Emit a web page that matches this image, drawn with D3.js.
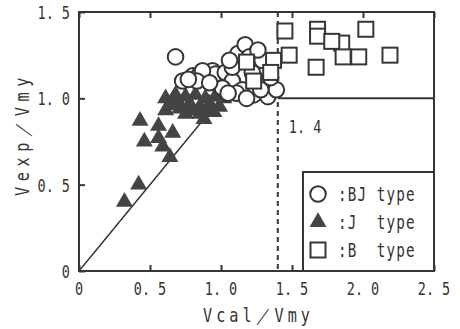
<!DOCTYPE html>
<html>
<head>
<meta charset="utf-8">
<script src="https://cdn.jsdelivr.net/npm/d3@7"></script>
<style>
  body { margin: 0; background: #fff; }
  text { font-family: "DejaVu Sans Mono", monospace; fill: #333; white-space: pre; }
</style>
</head>
<body>
<div class="plot"></div>
<script>
// BJ type (circles)
var bjX = [0.68, 0.73, 0.80, 0.85, 0.90, 0.94, 0.97, 0.96, 1.03, 1.08, 1.08, 1.12, 1.17, 1.20, 1.15, 1.23, 1.33, 1.39, 1.29, 1.26, 1.11, 1.18, 0.87, 1.01, 0.83, 1.06, 0.77, 0.92, 1.05, 1.28, 1.35, 1.22];
var bjY = [1.24, 1.10, 1.13, 1.14, 1.11, 1.16, 1.09, 1.14, 1.15, 1.10, 1.18, 1.26, 1.31, 1.24, 1.05, 1.02, 1.01, 1.05, 1.22, 1.28, 1.03, 1.00, 1.16, 1.06, 1.10, 1.22, 1.11, 1.09, 1.03, 1.05, 1.12, 1.15];
// J type (triangles)
var jX = [0.43, 0.56, 0.66, 0.46, 0.56, 0.59, 0.64, 0.42, 0.32, 0.61, 0.68, 0.75, 0.82, 0.89, 0.96, 1.02, 0.64, 0.71, 0.78, 0.85, 0.92, 0.99, 0.75, 0.85, 0.61, 0.70, 0.80, 0.90, 0.95, 0.66, 0.88];
var jY = [0.87, 0.84, 0.80, 0.75, 0.77, 0.72, 0.66, 0.50, 0.40, 1.00, 1.02, 1.01, 1.02, 1.00, 1.01, 1.00, 0.96, 0.94, 0.97, 0.95, 0.97, 0.95, 0.91, 0.91, 0.93, 0.98, 0.93, 0.93, 0.92, 0.99, 0.88];
// B type (squares)
var bX = [1.45, 1.68, 1.68, 1.85, 2.02, 1.86, 1.97, 2.19, 1.67, 1.48, 1.37, 1.35, 1.18, 1.23, 1.78];
var bY = [1.39, 1.40, 1.36, 1.32, 1.40, 1.24, 1.24, 1.25, 1.18, 1.25, 1.22, 1.15, 1.21, 1.10, 1.33];

var xTicks = [0, 0.5, 1.0, 1.5, 2.0, 2.5];
var yTicks = [0, 0.5, 1.0, 1.5];
var xTickLabels = ["0", "0.5", "1.0", "1.5", "2.0", "2.5"];
var yTickLabels = ["0", "0.5", "1.0", "1.5"];
var legendLabels = [":BJ type", ":J  type", ":B  type"];
var limitX = 1.4;

var width = 460, height = 329;
var margin = {left: 79, right: 26, top: 12, bottom: 58};
var ink = "#363636";

var svg = d3.select(".plot").append("svg")
  .attr("width", width)
  .attr("height", height);

var x = d3.scaleLinear().domain([0, 2.5]).range([margin.left, width - margin.right]);
var y = d3.scaleLinear().domain([0, 1.5]).range([height - margin.bottom, margin.top]);

// condensed text helper (the original uses a narrow gothic face)
function label(px, py, str, size, anchor, sx, rot, ls) {
  return svg.append("text")
    .attr("transform", "translate(" + px + "," + py + ")" + (rot ? " rotate(" + rot + ")" : "") + " scale(" + sx + ",1)")
    .attr("text-anchor", anchor)
    .style("font-size", size + "px")
    .style("letter-spacing", (ls || 0) + "px")
    .text(str);
}

// frame
svg.append("rect")
  .attr("x", x(0)).attr("y", y(1.5))
  .attr("width", x(2.5) - x(0)).attr("height", y(0) - y(1.5))
  .attr("fill", "none").attr("stroke", ink).attr("stroke-width", 2);

// inward ticks
var xAxisB = d3.axisBottom(x).tickValues(xTicks).tickSize(-6).tickFormat("");
var xAxisT = d3.axisTop(x).tickValues(xTicks).tickSize(-6).tickFormat("");
var yAxisL = d3.axisLeft(y).tickValues(yTicks).tickSize(-6).tickFormat("");
[[xAxisB, "translate(0," + y(0) + ")"], [xAxisT, "translate(0," + y(1.5) + ")"], [yAxisL, "translate(" + x(0) + ",0)"]]
  .forEach(function(a) {
    var g = svg.append("g").attr("transform", a[1]).call(a[0]);
    g.select(".domain").remove();
    g.selectAll("line").attr("stroke", ink).attr("stroke-width", 2);
  });

// tick labels
xTicks.forEach(function(d, i) {
  label(x(d), y(0) + 24, xTickLabels[i].replace(".", ". "), 18, "middle", 0.75);
});
yTicks.forEach(function(d, i) {
  label(x(0) - 9, y(d) + 7, yTickLabels[i].replace(".", ". "), 18, "end", 0.75);
});

// axis titles
label((x(0) + x(2.5)) / 2 + 2, 322, "Vcal／Vmy", 19, "middle", 0.8, 0, 5);
label(29, 134, "Vexp／Vmy", 19, "middle", 0.8, -90, 7);

// y = x line
svg.append("line")
  .attr("x1", x(0)).attr("y1", y(0)).attr("x2", x(1.0)).attr("y2", y(1.0))
  .attr("stroke", ink).attr("stroke-width", 1.5);

// 1.4 limit lines
svg.append("line")
  .attr("x1", x(limitX)).attr("y1", y(1.5)).attr("x2", x(limitX)).attr("y2", y(0))
  .attr("stroke", ink).attr("stroke-width", 2).attr("stroke-dasharray", "5,4");
svg.append("line")
  .attr("x1", x(limitX)).attr("y1", y(1.0)).attr("x2", x(2.5)).attr("y2", y(1.0))
  .attr("stroke", ink).attr("stroke-width", 2);
label(x(limitX) + 11, y(0.8), "1. 4", 18, "start", 0.75);

// marks
var tri = d3.symbol().type(d3.symbolTriangle).size(125);
svg.append("g").selectAll("path").data(jX).join("path")
  .attr("transform", (d, i) => "translate(" + x(d) + "," + y(jY[i]) + ")")
  .attr("d", tri).attr("fill", "#444");

svg.append("g").selectAll("circle").data(bjX).join("circle")
  .attr("cx", d => x(d)).attr("cy", (d, i) => y(bjY[i])).attr("r", 7.8)
  .attr("fill", "#fff").attr("stroke", ink).attr("stroke-width", 2);

svg.append("g").selectAll("rect").data(bX).join("rect")
  .attr("x", d => x(d) - 7.5).attr("y", (d, i) => y(bY[i]) - 7.5)
  .attr("width", 15).attr("height", 15)
  .attr("fill", "#fff").attr("stroke", ink).attr("stroke-width", 2);

// legend
svg.append("rect")
  .attr("x", 303).attr("y", 172).attr("width", x(2.5) - 303).attr("height", y(0) - 172)
  .attr("fill", "#fff").attr("stroke", ink).attr("stroke-width", 2);
var ly = [194, 222, 250];
svg.append("circle").attr("cx", 318).attr("cy", ly[0]).attr("r", 7.8)
  .attr("fill", "#fff").attr("stroke", ink).attr("stroke-width", 2);
svg.append("path").attr("transform", "translate(318," + ly[1] + ")")
  .attr("d", tri).attr("fill", "#444");
svg.append("rect").attr("x", 310.5).attr("y", ly[2] - 7.5).attr("width", 15).attr("height", 15)
  .attr("fill", "#fff").attr("stroke", ink).attr("stroke-width", 2);
legendLabels.forEach(function(d, i) {
  label(338, ly[i] + 7, d, 19, "start", 0.75, 0, 1.5);
});
</script>
</body>
</html>
